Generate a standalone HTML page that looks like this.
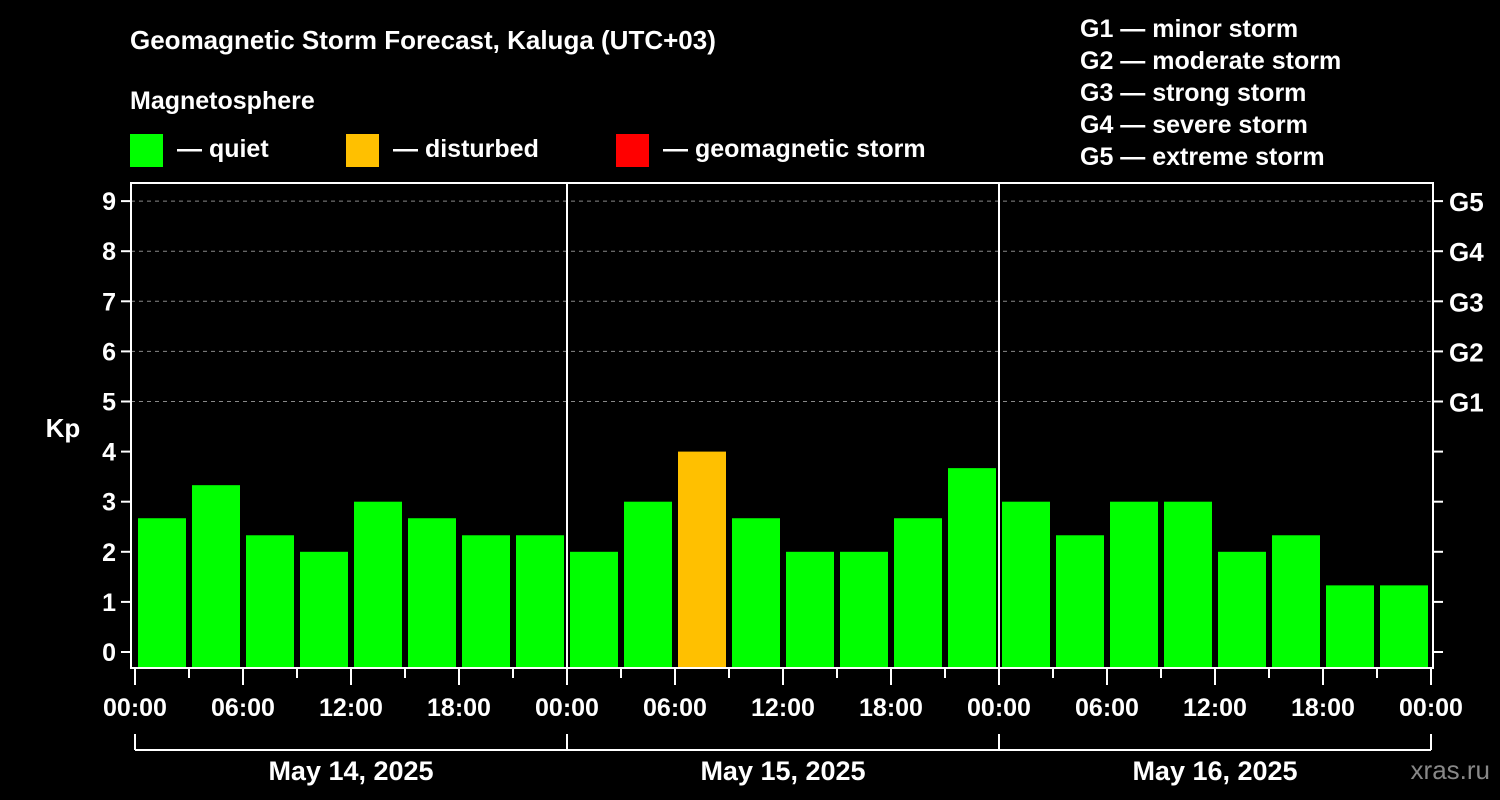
<!DOCTYPE html>
<html><head><meta charset="utf-8"><style>
html,body{margin:0;padding:0;background:#000;width:1500px;height:800px;overflow:hidden}
svg{display:block;font-family:"Liberation Sans",Arial,sans-serif;font-weight:bold;fill:#fff}
</style></head><body>
<svg id="chart" width="1500" height="800" viewBox="0 0 1500 800">
<text x="130" y="49" font-size="26">Geomagnetic Storm Forecast, Kaluga (UTC+03)</text>
<text x="130" y="109" font-size="25">Magnetosphere</text>
<g><rect x="130" y="134" width="33" height="33" fill="#00ff00"/><text x="177" y="157" font-size="25">— quiet</text></g>
<g><rect x="346" y="134" width="33" height="33" fill="#ffc000"/><text x="393" y="157" font-size="25">— disturbed</text></g>
<g><rect x="616" y="134" width="33" height="33" fill="#ff0000"/><text x="663" y="157" font-size="25">— geomagnetic storm</text></g>
<g font-size="25">
<text x="1080" y="37">G1 — minor storm</text>
<text x="1080" y="69">G2 — moderate storm</text>
<text x="1080" y="101">G3 — strong storm</text>
<text x="1080" y="133">G4 — severe storm</text>
<text x="1080" y="165">G5 — extreme storm</text>
</g>
<text x="63" y="437" font-size="26" text-anchor="middle">Kp</text>
<text x="1490" y="779" font-size="26" text-anchor="end" fill="#888" style="fill:#888" font-weight="normal">xras.ru</text>
<g id="grid"></g><g id="bars"></g><g id="axes"></g>
</svg>
<script>
const days = ["May 14, 2025","May 15, 2025","May 16, 2025"];
const kpValues = [2.67,3.33,2.33,2,3,2.67,2.33,2.33, 2,3,4,2.67,2,2,2.67,3.67, 3,2.33,3,3,2,2.33,1.33,1.33];
const yTicks = [0,1,2,3,4,5,6,7,8,9];
const gLabels = ["G1","G2","G3","G4","G5"];
const xLabels = ["00:00","06:00","12:00","18:00"];
const NS="http://www.w3.org/2000/svg";
const L=131,R=1433,T=183,B=668, X0=135, HOUR=18;
const y=v=>652-v*50.1;
const x=h=>X0+h*HOUR;
function mk(tag,attrs,parent,txt){const e=document.createElementNS(NS,tag);for(const k in attrs)e.setAttribute(k,attrs[k]);if(txt!==undefined)e.textContent=txt;parent.appendChild(e);return e;}
const grid=document.getElementById('grid'),bars=document.getElementById('bars'),axes=document.getElementById('axes');
yTicks.forEach(v=>{
 if(v>=5){const l=mk('line',{x1:L,x2:R,y1:y(v),y2:y(v),stroke:'#888','stroke-dasharray':'4,4','stroke-width':1},grid);
 
 }
 const t=mk('text',{x:116,y:y(v)+9,'font-size':25,'text-anchor':'end'},axes,v);
 
 
 mk('line',{x1:121,x2:L,y1:y(v),y2:y(v),stroke:'#fff','stroke-width':2},axes);
 mk('line',{x1:R,x2:R+10,y1:y(v),y2:y(v),stroke:'#fff','stroke-width':2},axes);
 if(v>=5){const g=mk('text',{x:1449,y:y(v)+10,'font-size':26},axes,gLabels[v-5]);
 
 }
});
kpValues.forEach((v,i)=>{
 const col=v>=5?'#ff0000':(v>=4?'#ffc000':'#00ff00');
 const r=mk('rect',{x:x(i*3)+3,y:y(v),width:48,height:B-y(v),fill:col},bars);
 
 
});
mk('rect',{x:L,y:T,width:R-L,height:B-T,fill:'none',stroke:'#fff','stroke-width':2},axes);
[1,2].forEach(d=>mk('line',{x1:x(d*24),x2:x(d*24),y1:T,y2:B,stroke:'#fff','stroke-width':2},axes));
for(let h=0;h<=72;h+=3){
 const major=h%6===0;
 mk('line',{x1:x(h),x2:x(h),y1:B,y2:major?685:678,stroke:'#fff','stroke-width':2},axes);
 if(major){const t=mk('text',{x:x(h),y:716,'font-size':25,'text-anchor':'middle'},axes,h===72?"00:00":xLabels[(h%24)/6]);
 
 }
}
mk('line',{x1:x(0),x2:x(72),y1:750,y2:750,stroke:'#fff','stroke-width':2},axes);
days.forEach((d,i)=>{
 mk('line',{x1:x(i*24),x2:x(i*24),y1:734,y2:750,stroke:'#fff','stroke-width':2},axes);
 const t=mk('text',{x:x(i*24+12),y:780,'font-size':27,'text-anchor':'middle'},axes,d);
 
 
});
mk('line',{x1:x(72),x2:x(72),y1:734,y2:750,stroke:'#fff','stroke-width':2},axes);
</script>
</body></html>
